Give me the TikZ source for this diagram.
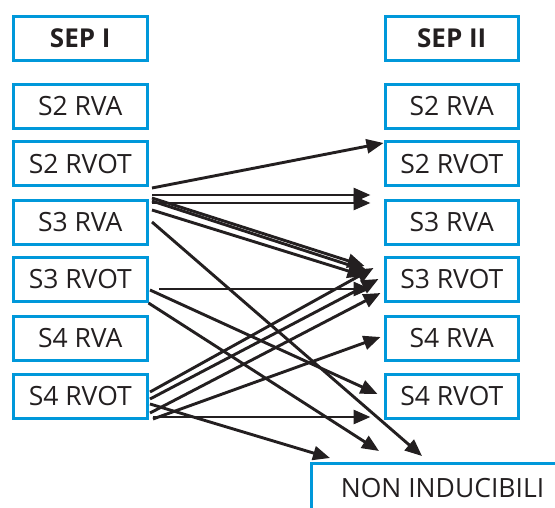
\documentclass[tikz,border=0pt]{standalone}
\usepackage{fontspec}
\setmainfont{Open Sans}
\usetikzlibrary{arrows.meta,calc}
\definecolor{boxblue}{RGB}{0,152,218}
\definecolor{ink}{RGB}{35,31,32}
\begin{document}
\begin{tikzpicture}[x=1pt,y=-1pt,
  box/.style={draw=boxblue, line width=3pt, minimum width=133.5pt, minimum height=44pt,
    inner sep=0pt, text=ink, font=\fontsize{26.5}{30}\selectfont},
  hbox/.style={box, font=\fontsize{26}{30}\selectfont\bfseries},
  arr/.style={draw=ink, line width=2.9pt, -{Triangle[length=17pt,width=14pt]}}]
\path[use as bounding box] (0,0) rectangle (555,508);
\clip (0,0) rectangle (555,508);
% left column
\node[hbox] (ls) at (80.25,38.5) {SEP I};
\node[box] (l1) at (80.25,106.5) {S2 RVA};
\node[box] (l2) at (80.25,164) {S2 RVOT};
\node[box] (l3) at (80.25,222.5) {S3 RVA};
\node[box] (l4) at (80.25,279.5) {S3 RVOT};
\node[box] (l5) at (80.25,338.5) {S4 RVA};
\node[box] (l6) at (80.25,396) {S4 RVOT};
% right column
\node[hbox] (rs) at (451.75,38.5) {SEP II};
\node[box] (r1) at (451.75,106.5) {S2 RVA};
\node[box] (r2) at (451.75,164) {S2 RVOT};
\node[box] (r3) at (451.75,222.5) {S3 RVA};
\node[box] (r4) at (451.75,279.5) {S3 RVOT};
\node[box] (r5) at (451.75,338.5) {S4 RVA};
\node[box] (r6) at (451.75,396) {S4 RVOT};
% non inducibili
\node[box, minimum width=262pt, minimum height=49pt] (non) at (442.5,488) {NON INDUCIBILI};
% arrows
\draw[arr] ([shift={(3.5,24)}]l2.east) -- ([shift={(0,-21)}]r2.west);
\draw[arr] ([shift={(3.5,-27.5)}]l3.east) -- ([shift={(-13,-27.5)}]r3.west);
\draw[arr] ([shift={(3.5,-19.5)}]l3.east) -- ([shift={(-13,-19.5)}]r3.west);
\draw[arr] ([shift={(3.5,-24.5)}]l3.east) -- ([shift={(-19,-13.5)}]r4.west);
\draw[arr] ([shift={(3.5,-21.5)}]l3.east) -- ([shift={(-16,-8.5)}]r4.west);
\draw[arr] ([shift={(3.5,-12.5)}]l3.east) -- ([shift={(-19,-3.5)}]r4.west);
\draw[arr] ([shift={(3.5,-0.5)}]l3.east) -- ([shift={(112,-6)}]non.north west);
\draw[arr] ([shift={(10.5,9.5)}]l4.east) -- ([shift={(-13,9.5)}]r4.west);
\draw[arr] ([shift={(1.5,10.5)}]l4.east) -- ([shift={(-6,-2)}]r6.west);
\draw[arr] ([shift={(0,23.5)}]l4.east) -- ([shift={(69,-11)}]non.north west);
\draw[arr] ([shift={(1.5,-4)}]l6.east) -- ([shift={(-10,-11.5)}]r4.west);
\draw[arr] ([shift={(1.5,3)}]l6.east) -- ([shift={(-5,-0.5)}]r4.west);
\draw[arr] ([shift={(1.5,17)}]l6.east) -- ([shift={(-3,13.5)}]r4.west);
\draw[arr] ([shift={(4.5,23)}]l6.east) -- ([shift={(-3,-1.5)}]r5.west);
\draw[arr] ([shift={(4.5,21)}]l6.east) -- ([shift={(-13,21)}]r6.west);
\draw[arr] ([shift={(1.5,8)}]l6.east) -- ([shift={(20,-4)}]non.north west);
\end{tikzpicture}
\end{document}
